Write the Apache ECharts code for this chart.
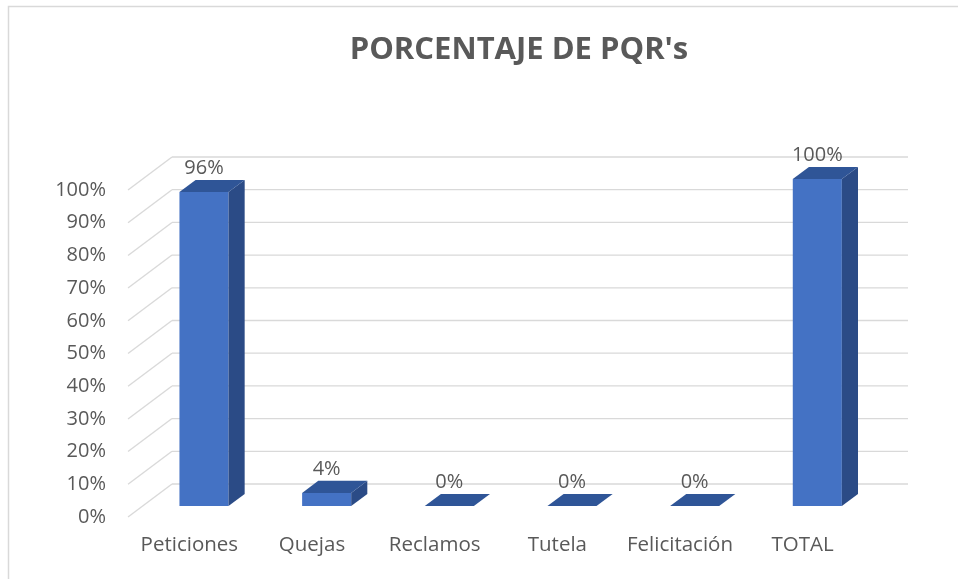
<!DOCTYPE html>
<html>
<head>
<meta charset="utf-8">
<script src="https://cdn.jsdelivr.net/npm/echarts@6/dist/echarts.min.js"></script>
<style>
html,body{margin:0;padding:0;background:#fff;}
#chart{width:958px;height:579px;}
</style>
</head>
<body>
<div id="chart"></div>
<script>
const titleText = "PORCENTAJE DE PQR's";
const categories = ['Peticiones', 'Quejas', 'Reclamos', 'Tutela', 'Felicitación', 'TOTAL'];
const values = [0.96, 0.04, 0, 0, 0, 1.00];
const gridTicks = [0, 0.1, 0.2, 0.3, 0.4, 0.5, 0.6, 0.7, 0.8, 0.9, 1.0];

// 3D projection constants (style)
const DX = 44, DY = -33;      // full depth vector
const F1 = 0.333, F2 = 0.70;  // bar front / back depth fractions
const BAR_W = 0.4;            // fraction of category band
const TXT = '#595959';
const FONT = '"Open Sans", sans-serif';

const chart = echarts.init(document.getElementById('chart'));

const option = {
  backgroundColor: '#ffffff',
  animation: false,
  title: {
    text: titleText,
    left: 514,
    top: 30,
    textAlign: 'center',
    textStyle: { fontFamily: FONT, fontWeight: 'bold', fontSize: 31, color: TXT }
  },
  graphic: [{
    type: 'rect',
    shape: { x: 8.5, y: 6.5, width: 980, height: 620 },
    style: { fill: 'none', stroke: '#D9D9D9', lineWidth: 1.5 },
    silent: true
  }],
  grid: { left: 128, top: 190, width: 736, height: 327 },
  xAxis: {
    type: 'category',
    data: categories,
    axisLine: { show: false },
    axisTick: { show: false },
    splitLine: { show: false },
    axisLabel: { fontFamily: FONT, fontSize: 20.5, color: TXT, margin: 18, interval: 0 }
  },
  yAxis: {
    type: 'value',
    min: 0, max: 1, interval: 0.1,
    axisLine: { show: false },
    axisTick: { show: false },
    splitLine: { show: false },
    axisLabel: {
      fontFamily: FONT, fontSize: 20, color: TXT, margin: 22,
      formatter: v => Math.round(v * 100) + '%'
    }
  },
  series: [
    {
      type: 'custom',
      z: 1,
      silent: true,
      clip: false,
      data: gridTicks.map(v => [0, v]),
      encode: { x: 0, y: 1 },
      renderItem: function (params, api) {
        const cs = params.coordSys;
        const y = api.coord([0, api.value(1)])[1];
        const x0 = cs.x;
        const x1 = cs.x + cs.width;
        const st = { stroke: '#D9D9D9', lineWidth: 1.3, fill: null };
        return {
          type: 'group',
          children: [
            { type: 'line', shape: { x1: x0, y1: y, x2: x0 + DX, y2: y + DY }, style: st },
            { type: 'line', shape: { x1: x0 + DX, y1: y + DY, x2: x1 + DX, y2: y + DY }, style: st }
          ]
        };
      }
    },
    {
      type: 'custom',
      z: 2,
      clip: false,
      data: values.map((v, i) => [i, v]),
      encode: { x: 0, y: 1 },
      renderItem: function (params, api) {
        const i = api.value(0), v = api.value(1);
        const base = api.coord([i, 0]);
        const top = api.coord([i, v]);
        const w = api.size([1, 0])[0] * BAR_W;
        const ox = F1 * DX, oy = F1 * DY;
        const dx = (F2 - F1) * DX, dy = (F2 - F1) * DY;
        const xl = base[0] + ox - w / 2, xr = base[0] + ox + w / 2;
        const yb = base[1] + oy, yt = top[1] + oy;
        const children = [];
        if (yb - yt > 0.5) {
          children.push({ type: 'rect', shape: { x: xl, y: yt, width: w, height: yb - yt }, style: { fill: '#4472C4' } });
          children.push({ type: 'polygon', shape: { points: [[xr, yt], [xr, yb], [xr + dx, yb + dy], [xr + dx, yt + dy]] }, style: { fill: '#2B4B86' } });
        }
        children.push({ type: 'polygon', shape: { points: [[xl, yt], [xr, yt], [xr + dx, yt + dy], [xl + dx, yt + dy]] }, style: { fill: '#2F5597' } });
        children.push({
          type: 'text',
          style: {
            text: Math.round(v * 100) + '%',
            x: base[0] + ox,
            y: yt + dy - 12,
            align: 'center',
            verticalAlign: 'middle',
            fontFamily: FONT,
            fontSize: 20,
            fill: TXT
          }
        });
        return { type: 'group', children: children };
      }
    }
  ]
};
chart.setOption(option);
</script>
</body>
</html>
